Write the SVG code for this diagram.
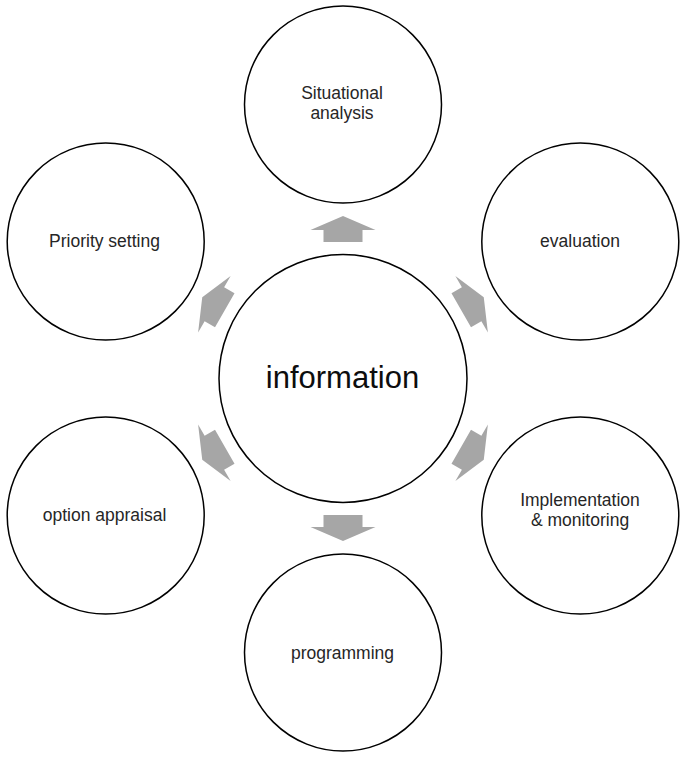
<svg xmlns="http://www.w3.org/2000/svg" width="685" height="758" viewBox="0 0 685 758">
<style>
.c{fill:#fff;stroke:#000;stroke-width:1.5}
.t{font-family:"Liberation Sans",Arial,sans-serif;font-size:17.5px;fill:#262626;text-anchor:middle}
.big{font-size:31px;fill:#0d0d0d}
.a{fill:#a6a6a6}
</style>
<defs>
<path id="arr" d="M -19.5 13 L -19.5 1 L -32.5 1 L 0 -13 L 32.5 1 L 19.5 1 L 19.5 13 Z"/>
</defs>
<rect width="685" height="758" fill="#fff"/>
<g id="connectors" class="a">
<use href="#arr" transform="translate(343 229) rotate(0)"/>
<use href="#arr" transform="translate(472.5 303.75) rotate(60)"/>
<use href="#arr" transform="translate(472.5 453.25) rotate(120)"/>
<use href="#arr" transform="translate(343 528) rotate(180)"/>
<use href="#arr" transform="translate(213.5 453.25) rotate(240)"/>
<use href="#arr" transform="translate(213.5 303.75) rotate(300)"/>
</g>
<g id="information">
<circle class="c" cx="343" cy="378.5" r="124"/>
<text class="t big" x="342.5" y="388">information</text>
</g>
<g id="situational">
<circle class="c" cx="343" cy="104.5" r="98.5"/>
<text class="t" x="342" y="99">Situational</text>
<text class="t" x="342" y="119">analysis</text>
</g>
<g id="evaluation">
<circle class="c" cx="580.3" cy="241.5" r="98.5"/>
<text class="t" x="580" y="247">evaluation</text>
</g>
<g id="implementation">
<circle class="c" cx="580.3" cy="515.5" r="98.5"/>
<text class="t" x="580" y="506">Implementation</text>
<text class="t" x="580" y="526">&amp; monitoring</text>
</g>
<g id="programming">
<circle class="c" cx="343" cy="652.5" r="98.5"/>
<text class="t" x="342.5" y="659">programming</text>
</g>
<g id="option">
<circle class="c" cx="105.7" cy="515.5" r="98.5"/>
<text class="t" x="104.5" y="521">option appraisal</text>
</g>
<g id="priority">
<circle class="c" cx="105.7" cy="241.5" r="98.5"/>
<text class="t" x="104.5" y="247">Priority setting</text>
</g>
</svg>
